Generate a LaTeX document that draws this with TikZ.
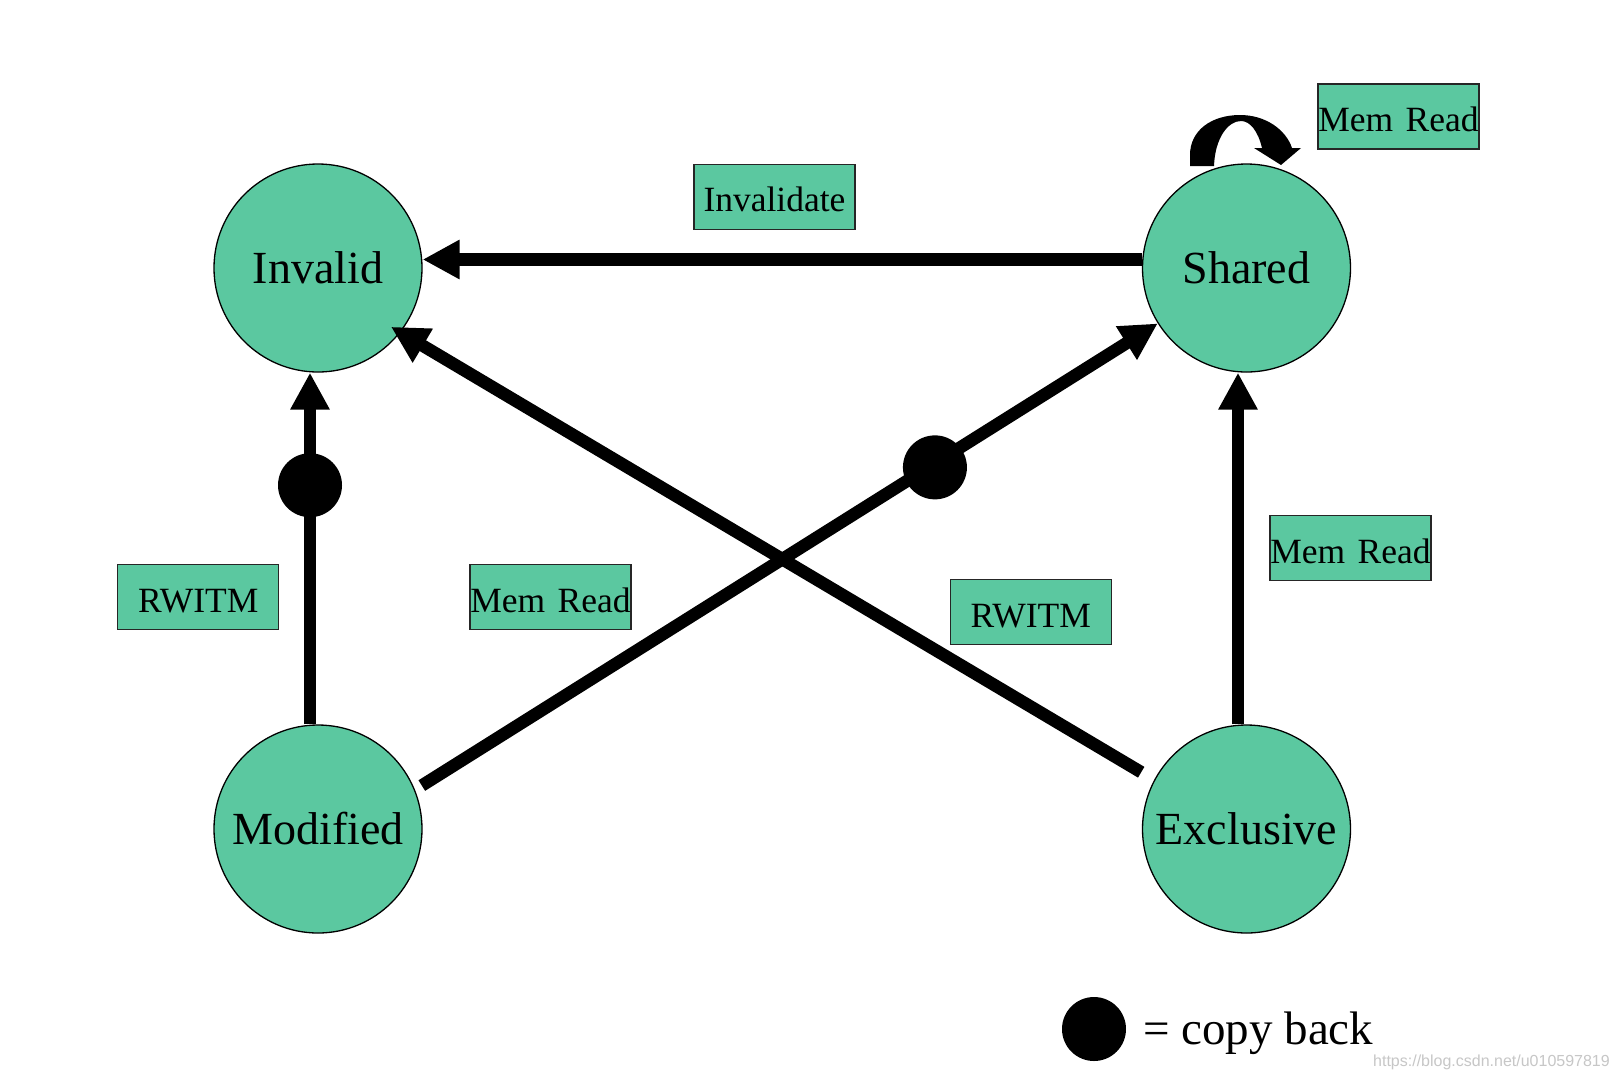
\documentclass[tikz,border=0pt]{standalone}
\usepackage{fontspec}
\setmainfont{Liberation Serif}
\newfontfamily\wmfont{Liberation Sans}
\usetikzlibrary{arrows.meta}
\definecolor{stategreen}{RGB}{91,200,160}
\begin{document}
\begin{tikzpicture}[x=1pt,y=-1pt,
  state/.style={circle, draw=black, line width=1.3pt, fill=stategreen, minimum size=208pt, inner sep=0pt, font=\fontsize{46}{50}\selectfont},
  lbl/.style={rectangle, draw=black!85, line width=1.2pt, fill=stategreen, minimum width=161pt, minimum height=65pt, inner sep=0pt, text height=30pt, text depth=0pt, font=\fontsize{35.5}{40}\selectfont},
  arr/.style={line width=12.5pt, -{Triangle[length=37pt,width=37pt]}},
  cb/.style={circle, fill=black, minimum size=64pt, inner sep=0pt},
]
\fill[white] (0,0) rectangle (1618,1080);
\useasboundingbox (0,0) rectangle (1618,1080);

% states
\node[state] (I) at (318,268) {Invalid};
\node[state] (S) at (1246.5,268) {Shared};
\node[state] (M) at (318,829) {Modified};
\node[state] (E) at (1246.5,829) {Exclusive};

% labels
\node[lbl] (linv) at (774.5,196.7) {Invalidate};
\node[lbl] (lmr1) at (1398.5,116.5) {Mem\hspace{.35em}Read};
\node[lbl] (lrw1) at (198.3,597) {RWITM};
\node[lbl] (lmr2) at (550.5,597) {Mem\hspace{.35em}Read};
\node[lbl] (lrw2) at (1030.7,612.3) {RWITM};
\node[lbl] (lmr3) at (1350.5,548.3) {Mem\hspace{.35em}Read};

% transitions
\draw[arr] ([yshift=8.5pt]S.west) -- ([yshift=8.5pt]I.east);
\draw[arr] ([xshift=-8pt]M.north) -- node[cb, pos=0.68] (cb1) {} ([xshift=-8pt]I.south);
\draw[arr] ([xshift=-8.5pt]E.north) -- ([xshift=-8.5pt]S.south);
\draw[arr, shorten <=15pt, shorten >=-11pt] (E.152) -- (I.-38);
\draw[arr, shorten <=8pt] (M.22) -- node[cb, pos=0.70, yshift=-4pt] (cb2) {} (S.212);

% self loop on Shared
\fill[black] (1190,166) -- (1190,155)
  .. controls (1190,130) and (1212,115) .. (1240,115)
  .. controls (1266,115) and (1286,130) .. (1292,148)
  -- (1301,148) -- (1281,165) -- (1254,148) -- (1262,148)
  .. controls (1258,131) and (1250,121) .. (1241,121)
  .. controls (1228,121) and (1215,138) .. (1214,166) -- cycle;

% legend
\node[cb] (key) at (1094,1029) {};
\node[anchor=base west, inner sep=0pt, font=\fontsize{47}{50}\selectfont] (keytext) at (1143,1044) {= copy back};

% watermark
\node[anchor=base east, inner sep=0pt, font=\wmfont\fontsize{16}{18}\selectfont, text=black!22] (wm) at (1610,1066) {https://blog.csdn.net/u010597819};
\end{tikzpicture}
\end{document}
